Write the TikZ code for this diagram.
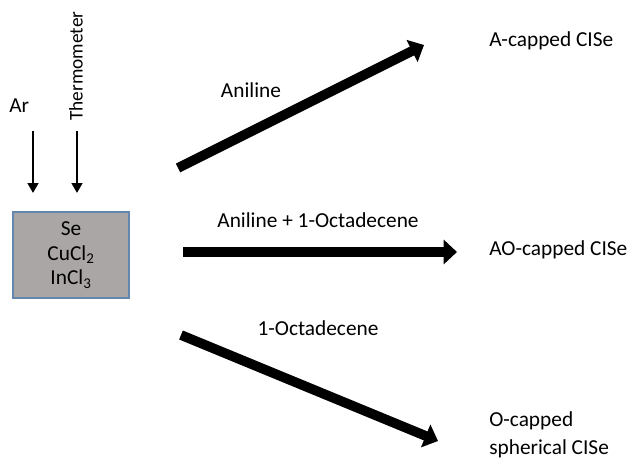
\documentclass[tikz,border=0pt]{standalone}
\usepackage{fontspec}
\setmainfont{Carlito}
\usetikzlibrary{arrows.meta}

\definecolor{boxfill}{RGB}{170,166,165}
\definecolor{boxline}{RGB}{100,135,175}

\tikzset{
    lbl/.style={font=\fontsize{16}{21}\selectfont, inner sep=0.75pt},
    bigarrow/.style={line width=7.3pt, -{Triangle[length=10pt,width=18pt]}},
    downarrow/.style={line width=2.2pt, -{Triangle[length=7.5pt,width=8pt]}}
}

\begin{document}
\begin{tikzpicture}[x=0.75pt,y=0.75pt,yscale=-1,xscale=1]
        \useasboundingbox (0,0) rectangle (627,461);
        % reactant box
        \node (mix) [draw=boxline, fill=boxfill, line width=0.8pt, minimum width=87pt, minimum height=64.5pt, lbl, font=\fontsize{16}{18.4}\selectfont, align=center] at (71,255) {Se\\CuCl\textsubscript{2}\\InCl\textsubscript{3}};
        % inlets
        \node (ar) [lbl, anchor=west] at (8,106) {Ar};
        \node (thermo) [lbl, font=\fontsize{14.5}{17}\selectfont, rotate=90] at (76,66) {Thermometer};
        \coordinate (artop) at (33,131);
        \coordinate (arbot) at (33,193);
        \coordinate (thtop) at (77,131);
        \coordinate (thbot) at (77,193);
        \draw [downarrow] (artop) -- (arbot);
        \draw [downarrow] (thtop) -- (thbot);
        % products
        \node (pa) [lbl, anchor=west] at (488,41) {A-capped CISe};
        \node (pao) [lbl, anchor=west] at (488,250) {AO-capped CISe};
        \node (po) [lbl, anchor=west, align=left] at (488,435) {O-capped\\spherical CISe};
        % reaction arrows
        \coordinate (s1) at (178,168);
        \coordinate (e1) at (424,45);
        \coordinate (s2) at (183,252);
        \coordinate (e2) at (457,252);
        \coordinate (s3) at (181,335);
        \coordinate (e3) at (438,441);
        \draw [bigarrow] (s1) -- (e1);
        \draw [bigarrow] (s2) -- (e2);
        \draw [bigarrow] (s3) -- (e3);
        \node (l1) [lbl] at (251,90) {Aniline};
        \node (l2) [lbl] at (318,220) {Aniline + 1-Octadecene};
        \node (l3) [lbl] at (318,328) {1-Octadecene};
\end{tikzpicture}
\end{document}
